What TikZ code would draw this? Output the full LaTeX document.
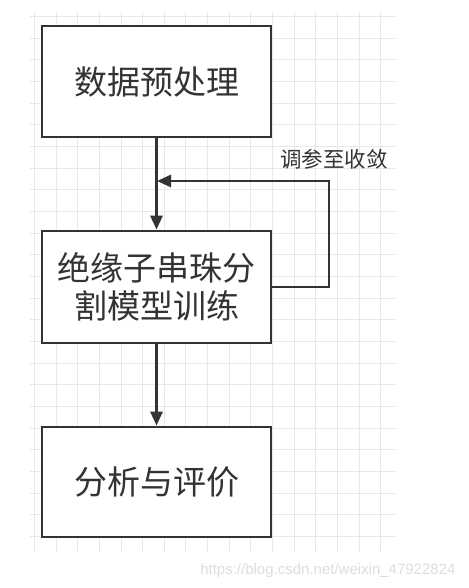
\documentclass[tikz,border=0pt]{standalone}
\usepackage{fontspec}
\newfontfamily\cjk{Noto Sans CJK SC}
\setsansfont{Liberation Sans}
\usetikzlibrary{arrows.meta,positioning}
\definecolor{ink}{HTML}{333333}
\definecolor{gridc}{HTML}{E8E8E8}
\definecolor{markc}{HTML}{DDDDDD}

\begin{document}
\begin{tikzpicture}
        [x=1pt,y=-1pt,
        StepBox/.style={rectangle,draw=ink,line width=2.8pt,fill=white,text=ink,minimum width=229pt,align=center,font=\cjk\fontsize{33}{38}\selectfont},
        GridLine/.style={gridc,line width=0.9pt},
        Flow/.style={draw=ink,line width=2.8pt,-{Triangle[length=14pt,width=12pt]}}]

        % 画布大小
        \useasboundingbox (0,0) rectangle (468,588);

        % 背景网格
        \foreach \k in {0,...,16}
            \draw[GridLine] (34.35+21.65*\k,12) -- (34.35+21.65*\k,552);
        \foreach \k in {0,...,24}
            \draw[GridLine] (30,16.65+21.65*\k) -- (396,16.65+21.65*\k);

        % 流程结点
        \node[StepBox,minimum height=111pt] (pre) at (156.5,81.5) {数据预处理};
        \node[StepBox,minimum height=112pt] (train) at (156.5,287) {绝缘子串珠分\\割模型训练};
        \node[StepBox,minimum height=110pt] (eval) at (156.5,482) {分析与评价};

        % 连线
        \draw[Flow] (pre.south) -- (train.north);
        \draw[Flow] (train.south) -- (eval.north);

        % 反馈回路
        \coordinate (turn) at (329,181);
        \coordinate (back) at (157,181);
        \draw[Flow] (train.east) -| (turn) -- (back);
        \node[text=ink,font=\cjk\fontsize{21.5}{24}\selectfont] (tune) at (334,159) {调参至收敛};

        % 水印
        \node[text=markc,font=\sffamily\fontsize{15}{18}\selectfont,anchor=east] (mark) at (459,571) {https://blog.csdn.net/weixin\_47922824};
    \end{tikzpicture}
\end{document}
